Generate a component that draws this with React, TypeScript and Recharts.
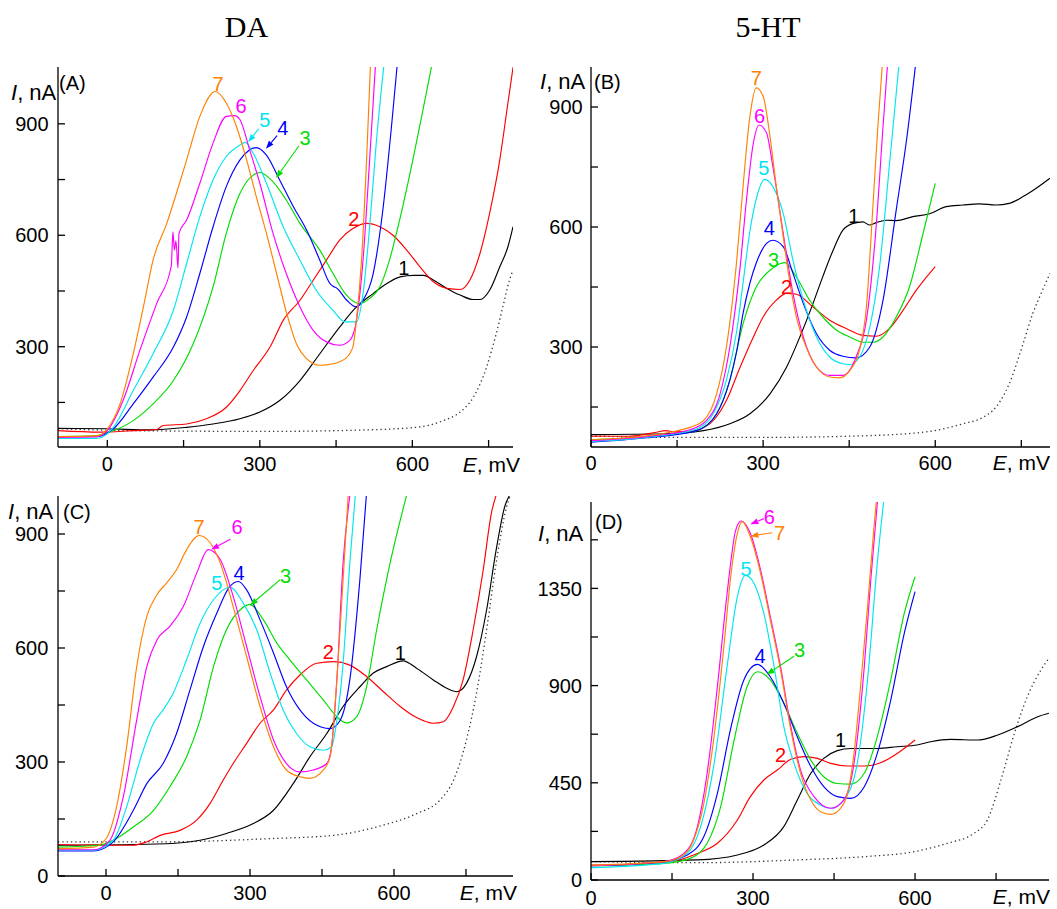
import { LineChart, Line, XAxis, YAxis, ReferenceDot, ReferenceLine } from 'recharts'

type Pt = [number, number]

// ---------- panel A : DA, E = -97..798 mV ----------
const a1: Pt[] = [[-97, 80], [0, 79], [84, 76], [156, 83], [208, 92], [261, 106], [300, 124], [339, 155], [379, 209], [418, 281], [457, 353], [490, 407], [523, 443], [550, 470], [576, 488], [603, 492], [622, 492], [642, 479], [668, 457], [694, 439], [720, 427], [733, 427], [752, 452], [772, 515], [788, 569], [798, 623]]
const a2: Pt[] = [[-97, 74], [-14, 70], [51, 74], [97, 77], [110, 88], [156, 92], [195, 106], [234, 137], [261, 182], [287, 236], [320, 299], [346, 371], [379, 425], [405, 479], [431, 533], [457, 587], [483, 618], [510, 632], [536, 623], [562, 600], [589, 560], [615, 515], [642, 474], [668, 457], [694, 454], [713, 479], [733, 551], [752, 659], [772, 803], [788, 956], [800, 1070]]
const a3: Pt[] = [[-97, 58], [-25, 60], [-1, 68], [51, 101], [90, 146], [130, 209], [169, 308], [208, 461], [234, 605], [261, 713], [287, 762], [300, 769], [326, 744], [352, 695], [379, 632], [418, 560], [444, 497], [468, 443], [497, 416], [516, 430], [536, 461], [555, 533], [575, 641], [601, 803], [621, 938], [640, 1070]]
const a4: Pt[] = [[-97, 58], [-21, 58], [12, 79], [51, 146], [90, 218], [130, 299], [156, 380], [182, 497], [208, 623], [234, 731], [261, 803], [293, 836], [313, 816], [339, 749], [366, 677], [392, 614], [418, 533], [438, 470], [445, 462], [451, 458], [471, 425], [490, 407], [503, 425], [523, 497], [542, 668], [559, 893], [571, 1070]]
const a5: Pt[] = [[-97, 53], [-21, 53], [12, 83], [51, 182], [90, 281], [130, 398], [156, 524], [182, 650], [208, 749], [234, 812], [261, 843], [271, 850], [287, 821], [313, 740], [346, 623], [379, 533], [411, 452], [444, 398], [468, 367], [490, 367], [503, 443], [516, 623], [529, 848], [545, 1070]]
const a6: Pt[] = [[-97, 56], [-21, 58], [0, 74], [31, 155], [64, 290], [97, 416], [126, 519], [129, 609], [132, 560], [135, 585], [139, 512], [141, 605], [156, 641], [182, 740], [208, 848], [234, 920], [250, 922], [261, 911], [280, 830], [300, 740], [326, 605], [352, 497], [379, 407], [405, 344], [431, 313], [457, 304], [477, 317], [490, 371], [503, 533], [516, 803], [528, 1070]]
const a7: Pt[] = [[-97, 58], [-21, 60], [0, 79], [25, 146], [51, 281], [71, 407], [90, 533], [117, 632], [136, 713], [156, 803], [182, 920], [212, 987], [234, 956], [254, 893], [274, 803], [293, 704], [313, 605], [333, 497], [353, 389], [372, 308], [392, 268], [418, 250], [444, 254], [468, 268], [483, 299], [490, 371], [500, 533], [510, 803], [518, 1070]]
const aBlank: Pt[] = [[-97, 79], [51, 74], [313, 72], [510, 76], [608, 83], [661, 101], [694, 124], [720, 164], [746, 245], [765, 335], [778, 407], [791, 479], [798, 506]]

// ---------- panel B : 5-HT, E = 0..800 mV ----------
const b1: Pt[] = [[0, 81], [126, 83], [196, 91], [242, 108], [277, 133], [312, 183], [341, 250], [364, 325], [387, 409], [404, 476], [422, 542], [439, 592], [457, 609], [474, 613], [485, 605], [497, 611], [515, 617], [532, 616], [561, 626], [590, 633], [619, 651], [648, 655], [677, 658], [706, 655], [729, 659], [753, 676], [776, 697], [800, 722]]
const b2: Pt[] = [[0, 77], [68, 77], [114, 87], [130, 91], [146, 88], [172, 89], [207, 108], [236, 166], [260, 250], [283, 325], [300, 375], [323, 417], [341, 434], [358, 432], [387, 400], [416, 367], [445, 346], [474, 329], [497, 327], [520, 346], [544, 392], [567, 442], [600, 501]]
const b3: Pt[] = [[0, 68], [97, 76], [184, 91], [219, 133], [242, 217], [265, 358], [288, 450], [312, 492], [338, 511], [358, 475], [381, 417], [404, 375], [428, 342], [451, 325], [474, 312], [492, 312], [509, 325], [532, 375], [555, 450], [579, 585], [600, 709]]
const b4: Pt[] = [[0, 62], [97, 73], [184, 91], [219, 133], [242, 217], [254, 290], [265, 384], [277, 460], [288, 510], [306, 559], [317, 567], [335, 551], [352, 484], [370, 409], [393, 333], [416, 292], [439, 277], [462, 273], [486, 300], [509, 417], [532, 643], [550, 818], [566, 1010]]
const b5: Pt[] = [[0, 64], [97, 74], [184, 95], [213, 133], [236, 217], [254, 340], [265, 460], [277, 590], [288, 670], [303, 719], [317, 701], [335, 634], [352, 517], [370, 417], [393, 325], [416, 275], [439, 258], [451, 256], [468, 275], [486, 350], [503, 501], [521, 768], [537, 1010]]
const b6: Pt[] = [[0, 66], [97, 76], [172, 93], [201, 116], [225, 183], [242, 300], [260, 501], [271, 668], [283, 810], [293, 855], [306, 835], [317, 751], [335, 585], [352, 434], [370, 325], [393, 250], [416, 229], [439, 229], [462, 275], [480, 367], [497, 601], [509, 852], [517, 1010]]
const b7: Pt[] = [[0, 68], [97, 78], [138, 87], [172, 99], [196, 116], [219, 183], [236, 300], [254, 517], [265, 701], [277, 877], [288, 948], [300, 927], [312, 826], [323, 701], [335, 576], [346, 467], [358, 375], [375, 300], [393, 250], [416, 225], [433, 223], [451, 241], [468, 292], [480, 400], [491, 643], [500, 852], [508, 1010]]
const bBlank: Pt[] = [[0, 78], [126, 74], [300, 74], [474, 78], [590, 89], [648, 108], [683, 124], [706, 150], [729, 208], [753, 308], [770, 384], [787, 442], [800, 484]]

// ---------- panel C : DA, E = -100..848 mV ----------
const c1: Pt[] = [[-100, 81], [126, 85], [196, 94], [251, 112], [307, 138], [349, 173], [390, 243], [425, 314], [460, 375], [494, 446], [529, 498], [557, 534], [585, 551], [619, 566], [647, 547], [682, 516], [710, 494], [731, 485], [751, 507], [772, 577], [793, 700], [813, 859], [831, 973], [845, 1010]]
const c2: Pt[] = [[-100, 83], [57, 81], [85, 90], [113, 107], [154, 120], [189, 147], [217, 191], [244, 252], [265, 296], [293, 349], [321, 402], [349, 437], [376, 489], [404, 529], [439, 560], [474, 564], [508, 555], [543, 525], [578, 485], [613, 446], [647, 417], [682, 402], [703, 406], [724, 446], [744, 516], [765, 648], [786, 806], [803, 955], [815, 1010]]
const c3: Pt[] = [[-100, 76], [-13, 81], [15, 94], [57, 129], [99, 173], [133, 235], [168, 314], [196, 410], [224, 551], [251, 648], [279, 700], [300, 714], [328, 674], [356, 613], [383, 569], [418, 516], [453, 463], [481, 419], [501, 403], [522, 419], [543, 498], [564, 648], [592, 824], [628, 1010]]
const c4: Pt[] = [[-100, 66], [-26, 66], [15, 90], [57, 173], [85, 243], [119, 296], [147, 375], [175, 490], [203, 604], [231, 692], [258, 762], [276, 775], [293, 753], [321, 674], [349, 587], [376, 498], [404, 437], [432, 402], [467, 388], [488, 410], [508, 516], [529, 780], [543, 1010]]
const c5: Pt[] = [[-100, 68], [-26, 68], [15, 94], [43, 182], [71, 305], [99, 402], [119, 437], [140, 481], [168, 569], [196, 665], [224, 727], [258, 760], [286, 718], [314, 648], [342, 534], [369, 437], [397, 375], [425, 340], [453, 331], [470, 340], [481, 410], [494, 560], [508, 824], [520, 1010]]
const c6: Pt[] = [[-100, 69], [-26, 69], [8, 94], [36, 208], [64, 411], [85, 551], [106, 621], [133, 657], [161, 709], [189, 797], [213, 859], [238, 833], [265, 736], [293, 604], [321, 472], [349, 358], [376, 296], [404, 274], [432, 279], [460, 296], [470, 340], [481, 516], [494, 824], [509, 1010]]
const c7: Pt[] = [[-100, 72], [-26, 76], [0, 98], [22, 182], [43, 340], [64, 551], [85, 683], [106, 740], [126, 771], [147, 806], [168, 859], [194, 896], [217, 877], [238, 824], [265, 709], [293, 577], [321, 446], [349, 340], [376, 279], [404, 261], [425, 257], [453, 279], [467, 314], [481, 516], [494, 780], [505, 1010]]
const cBlank: Pt[] = [[-100, 90], [126, 90], [335, 98], [474, 107], [578, 134], [647, 164], [696, 200], [724, 252], [751, 358], [772, 481], [793, 648], [813, 824], [835, 973], [845, 1010]]

// ---------- panel D : 5-HT, E = 0..848 mV ----------
const d1: Pt[] = [[0, 85], [197, 93], [271, 116], [320, 162], [357, 247], [382, 370], [407, 494], [431, 563], [456, 599], [481, 609], [530, 609], [567, 617], [604, 625], [629, 640], [666, 651], [716, 648], [753, 671], [790, 710], [827, 756], [848, 772]]
const d2: Pt[] = [[0, 69], [135, 80], [197, 123], [234, 170], [271, 278], [295, 386], [320, 463], [345, 509], [370, 559], [394, 571], [419, 563], [444, 540], [475, 528], [506, 528], [536, 543], [567, 586], [600, 648]]
const d3: Pt[] = [[0, 66], [135, 77], [184, 100], [215, 170], [240, 339], [265, 648], [289, 895], [308, 964], [332, 926], [357, 818], [382, 679], [407, 555], [431, 478], [456, 447], [481, 444], [506, 494], [530, 663], [555, 926], [580, 1234], [600, 1404]]
const d4: Pt[] = [[0, 66], [135, 85], [178, 116], [209, 201], [234, 401], [258, 694], [283, 926], [308, 998], [332, 941], [357, 818], [382, 663], [407, 525], [431, 432], [456, 386], [481, 378], [506, 432], [530, 586], [555, 833], [580, 1142], [600, 1335]]
const d5: Pt[] = [[0, 57], [135, 77], [178, 123], [203, 247], [227, 525], [252, 988], [271, 1312], [286, 1410], [302, 1373], [320, 1234], [339, 988], [357, 710], [376, 540], [400, 401], [425, 347], [444, 332], [468, 370], [493, 540], [512, 926], [530, 1466], [544, 1800]]
const d6: Pt[] = [[0, 66], [135, 85], [172, 123], [197, 247], [215, 494], [234, 895], [252, 1327], [268, 1620], [278, 1662], [295, 1605], [314, 1435], [332, 1219], [351, 987], [370, 710], [388, 509], [413, 386], [444, 332], [468, 370], [487, 540], [506, 988], [518, 1389], [532, 1800]]
const d7: Pt[] = [[0, 69], [135, 85], [166, 108], [190, 185], [209, 355], [227, 648], [246, 1080], [258, 1389], [271, 1605], [280, 1659], [295, 1589], [314, 1420], [332, 1204], [351, 972], [370, 694], [388, 494], [407, 370], [425, 316], [444, 304], [462, 332], [475, 401], [487, 586], [499, 895], [512, 1265], [524, 1636], [530, 1800]]
const dBlank: Pt[] = [[0, 85], [197, 80], [382, 93], [506, 108], [598, 131], [660, 170], [709, 216], [734, 278], [759, 463], [784, 679], [808, 849], [833, 972], [848, 1026]]

// curve colours, index = curve number (0 = blank, dotted)
const colors = ['#333333', '#000000', '#ff0000', '#00dd00', '#0000ff', '#00e5f0', '#ff00ff', '#ff8000']

const eTicks = [0, 150, 300, 450, 600, 750]
const eShown = [0, 300, 600]
const iTicksA = [150, 300, 450, 600, 750, 900]
const iTicksC = [0, 150, 300, 450, 600, 750, 900]
const iTicksD = [0, 225, 450, 675, 900, 1125, 1350, 1575]

const SANS = "'Liberation Sans', Arial, sans-serif"

interface Tag { x: number; y: number; n: number }
interface Arrow { x1: number; y1: number; x2: number; y2: number; n: number }

interface PanelProps {
  box: [number, number, number, number]
  plot: [number, number, number, number]
  xDomain: [number, number]
  yDomain: [number, number]
  yTicks: number[]
  yShown: number[]
  xGap: number
  yGap: number
  curves: Pt[][]
  tags: Tag[]
  arrows: Arrow[]
}

const toRows = (pts: Pt[]) => pts.map(([x, y]) => ({ x, y }))

const arrowShape = (color: string) => (p: any) => {
  const { x1, y1, x2, y2 } = p
  const a = Math.atan2(y2 - y1, x2 - x1)
  const bx = x2 - 8 * Math.cos(a), by = y2 - 8 * Math.sin(a)
  const s = Math.sin(a) * 3, c = Math.cos(a) * 3
  return (
    <g>
      <line x1={x1} y1={y1} x2={bx} y2={by} stroke={color} strokeWidth={1.1} />
      <polygon points={`${x2},${y2} ${bx - s},${by + c} ${bx + s},${by - c}`} fill={color} />
    </g>
  )
}

function Panel({ box, plot, xDomain, yDomain, yTicks, yShown, xGap, yGap, curves, tags, arrows }: PanelProps) {
  const [bl, bt, bw, bh] = box
  const [pl, pt, pr, pb] = plot
  const axisProps = { stroke: '#000', strokeWidth: 1.3, allowDataOverflow: true, tickSize: -7, interval: 0 as const }
  const tickFont = { fontSize: 20, fontFamily: SANS, fill: '#000' }
  const fmt = (shown: number[]) => (v: number) => (shown.includes(v) ? String(v) : '')
  return (
    <div style={{ position: 'absolute', left: bl, top: bt }}>
      <LineChart width={bw} height={bh} margin={{ top: pt - bt, right: bl + bw - pr, bottom: 2, left: 0 }}>
        <XAxis xAxisId="b" dataKey="x" type="number" domain={xDomain} ticks={eTicks} tickFormatter={fmt(eShown)}
          height={bt + bh - pb - 2} tickMargin={xGap} tick={tickFont} axisLine={{ stroke: '#000', strokeWidth: 1.3 }}
          tickLine={{ stroke: '#000' }} {...axisProps} />
        <XAxis xAxisId="t" orientation="top" dataKey="x" type="number" domain={xDomain} ticks={eTicks} tickFormatter={() => ''}
          height={0} axisLine={{ stroke: '#000', strokeWidth: 1.3 }} tickLine={{ stroke: '#000' }} {...axisProps} />
        <YAxis yAxisId="l" type="number" domain={yDomain} ticks={yTicks} tickFormatter={fmt(yShown)} width={pl - bl}
          tickMargin={yGap} tick={tickFont} axisLine={{ stroke: '#000', strokeWidth: 1.3 }} tickLine={{ stroke: '#000' }} {...axisProps} />
        <YAxis yAxisId="r" orientation="right" type="number" domain={yDomain} ticks={yTicks} tickFormatter={() => ''} width={0}
          axisLine={{ stroke: '#000', strokeWidth: 1.3 }} tickLine={{ stroke: '#000' }} {...axisProps} />
        {curves.map((pts, i) => (
          <Line key={i} xAxisId="b" yAxisId="l" data={toRows(pts)} dataKey="y" type="monotone" dot={false}
            stroke={colors[i]} strokeWidth={i === 0 ? 1.3 : 1.15} strokeDasharray={i === 0 ? '1.3 3' : undefined}
            isAnimationActive={false} />
        ))}
        {arrows.map((a, i) => (
          <ReferenceLine key={'a' + i} xAxisId="b" yAxisId="l" segment={[{ x: a.x1, y: a.y1 }, { x: a.x2, y: a.y2 }]}
            shape={arrowShape(colors[a.n])} />
        ))}
        {tags.map((t, i) => (
          <ReferenceDot key={'t' + i} xAxisId="b" yAxisId="l" x={t.x} y={t.y} r={0}
            shape={(p: any) => (
              <text x={p.cx} y={p.cy} textAnchor="middle" dominantBaseline="central" fontSize={20}
                fontFamily={SANS} fill={colors[t.n]}>{t.n}</text>
            )} />
        ))}
      </LineChart>
    </div>
  )
}

const tagsA: Tag[] = [{ x: 218, y: 1008, n: 7 }, { x: 263, y: 949, n: 6 }, { x: 310, y: 911, n: 5 }, { x: 345, y: 889, n: 4 }, { x: 389, y: 862, n: 3 }, { x: 485, y: 643, n: 2 }, { x: 583, y: 511, n: 1 }]
const arrowsA: Arrow[] = [{ x1: 298, y1: 887, x2: 277, y2: 851, n: 5 }, { x1: 334, y1: 868, x2: 312, y2: 833, n: 4 }, { x1: 377, y1: 841, x2: 332, y2: 754, n: 3 }]
const tagsB: Tag[] = [{ x: 288, y: 973, n: 7 }, { x: 294, y: 878, n: 6 }, { x: 301, y: 747, n: 5 }, { x: 311, y: 597, n: 4 }, { x: 318, y: 517, n: 3 }, { x: 341, y: 450, n: 2 }, { x: 458, y: 628, n: 1 }]
const tagsC: Tag[] = [{ x: 194, y: 918, n: 7 }, { x: 273, y: 919, n: 6 }, { x: 231, y: 771, n: 5 }, { x: 277, y: 797, n: 4 }, { x: 374, y: 789, n: 3 }, { x: 463, y: 589, n: 2 }, { x: 613, y: 587, n: 1 }]
const arrowsC: Arrow[] = [{ x1: 259, y1: 886, x2: 219, y2: 859, n: 6 }, { x1: 363, y1: 780, x2: 300, y2: 712, n: 3 }]
const tagsD: Tag[] = [{ x: 330, y: 1682, n: 6 }, { x: 349, y: 1608, n: 7 }, { x: 287, y: 1441, n: 5 }, { x: 313, y: 1036, n: 4 }, { x: 386, y: 1067, n: 3 }, { x: 351, y: 580, n: 2 }, { x: 462, y: 649, n: 1 }]
const arrowsD: Arrow[] = [{ x1: 320, y1: 1673, x2: 295, y2: 1647, n: 6 }, { x1: 336, y1: 1608, x2: 295, y2: 1592, n: 7 }, { x1: 376, y1: 1036, x2: 325, y2: 951, n: 3 }]

const IAxis = ({ x, y }: { x: number; y: number }) => (
  <text x={x} y={y} fontSize={22} fontFamily={SANS}><tspan fontStyle="italic">I</tspan>, nA</text>
)
const EAxis = ({ x, y }: { x: number; y: number }) => (
  <text x={x} y={y} fontSize={21} fontFamily={SANS} textAnchor="end"><tspan fontStyle="italic">E</tspan>, mV</text>
)
const Tagline = ({ x, y, s }: { x: number; y: number; s: string }) => (
  <text x={x} y={y} fontSize={20} fontFamily={SANS}>{s}</text>
)

export default function App() {
  return (
    <div style={{ position: 'absolute', left: 0, top: 0, width: 1057, height: 909, background: '#fff' }}>
      <Panel box={[0, 40, 530, 440]} plot={[58, 67, 513, 447]} xDomain={[-97, 798]} yDomain={[30, 1053]}
        yTicks={iTicksA} yShown={[300, 600, 900]} xGap={16.8} yGap={16.4}
        curves={[aBlank, a1, a2, a3, a4, a5, a6, a7]} tags={tagsA} arrows={arrowsA} />
      <Panel box={[530, 40, 527, 440]} plot={[591, 67, 1050, 447]} xDomain={[0, 800]} yDomain={[50, 1000]}
        yTicks={iTicksA} yShown={[300, 600, 900]} xGap={15.8} yGap={15.3}
        curves={[bBlank, b1, b2, b3, b4, b5, b6, b7]} tags={tagsB} arrows={[]} />
      <Panel box={[0, 480, 530, 429]} plot={[58, 496, 513, 876]} xDomain={[-100, 848]} yDomain={[0, 1000]}
        yTicks={iTicksC} yShown={[0, 300, 600, 900]} xGap={16.8} yGap={16.7}
        curves={[cBlank, c1, c2, c3, c4, c5, c6, c7]} tags={tagsC} arrows={arrowsC} />
      <Panel box={[530, 480, 527, 429]} plot={[591, 502, 1049, 880]} xDomain={[0, 848]} yDomain={[0, 1750]}
        yTicks={iTicksD} yShown={[0, 450, 900, 1350]} xGap={17.5} yGap={16}
        curves={[dBlank, d1, d2, d3, d4, d5, d6, d7]} tags={tagsD} arrows={arrowsD} />
      <svg width={1057} height={909} style={{ position: 'absolute', left: 0, top: 0, pointerEvents: 'none' }}>
        <text x={246.5} y={36.5} fontSize={30} fontFamily="'Liberation Serif', 'Times New Roman', serif" textAnchor="middle">DA</text>
        <text x={768} y={36.5} fontSize={30} fontFamily="'Liberation Serif', 'Times New Roman', serif" textAnchor="middle">5-HT</text>
        <IAxis x={11} y={99.5} />
        <IAxis x={540} y={88.5} />
        <IAxis x={8} y={519} />
        <IAxis x={538} y={541} />
        <Tagline x={59} y={89.5} s="(A)" />
        <Tagline x={594} y={89} s="(B)" />
        <Tagline x={63} y={519} s="(C)" />
        <Tagline x={595} y={528.5} s="(D)" />
        <EAxis x={520} y={471.5} />
        <EAxis x={1050} y={470} />
        <EAxis x={517} y={900} />
        <EAxis x={1050} y={904} />
      </svg>
    </div>
  )
}
